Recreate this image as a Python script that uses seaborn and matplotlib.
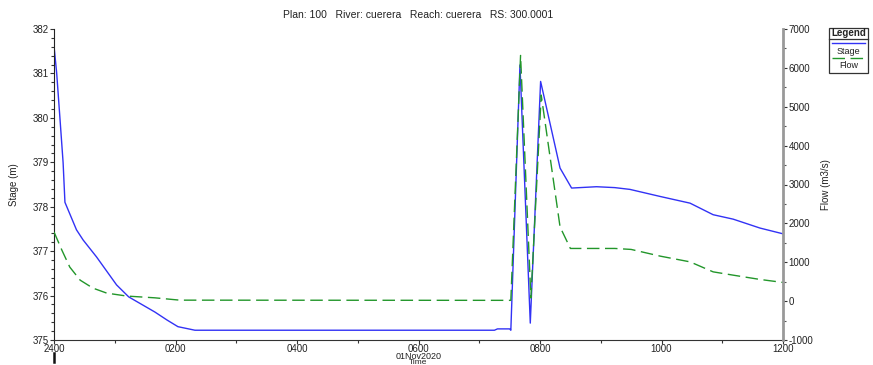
import matplotlib
matplotlib.use("Agg")
import matplotlib.pyplot as plt
from matplotlib.lines import Line2D
from matplotlib.patches import Rectangle
from matplotlib.ticker import MultipleLocator
import seaborn as sns
import pandas as pd

# Stage hydrograph (hours after 2400, stage in m)
stage_hours = [0.0, 0.044, 0.10, 0.15, 0.18, 0.37, 0.48, 0.70, 1.03, 1.23, 1.66, 1.86,
               2.04, 2.32, 7.25, 7.30, 7.50, 7.52, 7.67, 7.84, 8.01, 8.33, 8.52, 8.93,
               9.23, 9.48, 9.98, 10.47, 10.85, 11.18, 11.62, 12.0]
stage_m = [381.62, 381.01, 379.95, 378.99, 378.10, 377.48, 377.25, 376.87, 376.24, 375.97,
           375.63, 375.45, 375.30, 375.22, 375.22, 375.25, 375.25, 375.22, 381.19, 375.38,
           380.82, 378.87, 378.42, 378.45, 378.43, 378.39, 378.23, 378.08, 377.82, 377.72,
           377.52, 377.39]

# Flow hydrograph (hours after 2400, flow in m3/s)
flow_hours = [0.0, 0.13, 0.26, 0.43, 0.64, 0.87, 1.20, 1.66, 2.07, 7.50, 7.52, 7.68,
              7.85, 8.02, 8.33, 8.50, 9.23, 9.50, 9.98, 10.47, 10.85, 11.18, 11.62, 12.0]
flow_cms = [1780, 1310, 875, 540, 335, 205, 130, 85, 25, 20, 20, 6320,
            80, 5300, 1910, 1355, 1355, 1330, 1157, 1010, 753, 668, 558, 480]

time_ticks = [0, 2, 4, 6, 8, 10, 12]
time_labels = ["2400", "0200", "0400", "0600", "0800", "1000", "1200"]

stage_df = pd.DataFrame({"hours": stage_hours, "stage": stage_m})
flow_df = pd.DataFrame({"hours": flow_hours, "flow": flow_cms})

plt.rcParams["font.family"] = ["Liberation Sans", "DejaVu Sans"]
plt.rcParams["axes.unicode_minus"] = False

W, H = 873, 365
fig = plt.figure(figsize=(W / 100, H / 100), dpi=100)
ax = fig.add_axes([54 / W, 1 - 340 / H, (783 - 54) / W, (340 - 29) / H])
ax2 = ax.twinx()

stage_color = "#3232f5"
flow_color = "#22962a"

sns.lineplot(data=stage_df, x="hours", y="stage", ax=ax, color=stage_color,
             linewidth=1.0, estimator=None, sort=False)
sns.lineplot(data=flow_df, x="hours", y="flow", ax=ax2, color=flow_color,
             linewidth=1.0, estimator=None, sort=False)
for ln in ax2.get_lines():
    ln.set_dashes([9, 4])

ax.set_xlim(0, 12)
ax.set_ylim(375, 382)
ax2.set_ylim(-1000, 7000)

ax.set_xticks(time_ticks)
ax.set_xticklabels(time_labels)
ax.xaxis.set_minor_locator(MultipleLocator(1))
ax.yaxis.set_major_locator(MultipleLocator(1))
ax.yaxis.set_minor_locator(MultipleLocator(0.2))
ax2.yaxis.set_major_locator(MultipleLocator(1000))
ax2.yaxis.set_minor_locator(MultipleLocator(500))

tick_kw = dict(labelsize=7, colors="#333333", labelcolor="#222222")
ax.tick_params(axis="both", which="major", length=3, width=0.8, pad=1, **tick_kw)
ax.tick_params(axis="x", which="major", pad=0)
ax.tick_params(axis="both", which="minor", length=2, width=0.8, colors="#333333")
ax2.tick_params(axis="y", which="major", length=3, width=0.8, pad=1, **tick_kw)
ax2.tick_params(axis="y", which="minor", length=2, width=0.8, colors="#555555")

for a in (ax, ax2):
    a.spines["top"].set_visible(False)
ax.spines["right"].set_visible(False)
ax.spines["left"].set_color("#222222")
ax.spines["bottom"].set_color("#333333")
ax2.spines["left"].set_visible(False)
ax2.spines["bottom"].set_visible(False)
ax2.spines["right"].set_color("#999999")
ax2.spines["right"].set_linewidth(2.0)

ax.set_xlabel("")
ax.set_ylabel("Stage (m)", fontsize=7, color="#222222")
ax2.set_ylabel("Flow (m3/s)", fontsize=7, color="#222222", rotation=90)
ax2.yaxis.set_label_coords(1.052, 0.5)
ax.yaxis.set_label_coords(-0.048, 0.5)

# date and axis caption under the 0600 tick
ax.text(0.5, -16.5 / 311, "01Nov2020", transform=ax.transAxes, ha="center",
        va="center", fontsize=6.5, color="#222222")
ax.text(0.5, -22.5 / 311, "Time", transform=ax.transAxes, ha="center",
        va="center", fontsize=6, color="#222222")
# start-of-day marker below the origin
ax.add_line(Line2D([0, 0], [-0.042, -0.071], transform=ax.transAxes, color="#111111",
                   linewidth=1.8, clip_on=False))

fig.text(418 / W, 1 - 15 / H,
         "Plan: 100   River: cuerera   Reach: cuerera   RS: 300.0001",
         ha="center", va="center", fontsize=7.5, color="#222222")

# legend box
bx0, bx1, by0, by1 = 829, 868, 28, 73
fig.patches.append(Rectangle((bx0 / W, 1 - by1 / H), (bx1 - bx0) / W, (by1 - by0) / H,
                             transform=fig.transFigure, fill=False, edgecolor="#333333",
                             linewidth=0.9))
fig.text((bx0 + bx1) / 2 / W, 1 - 33 / H, "Legend", ha="center", va="center",
         fontsize=7, fontweight="bold", color="#222222")
fig.lines.append(Line2D([bx0 / W, bx1 / W], [1 - 38.5 / H, 1 - 38.5 / H],
                        transform=fig.transFigure, color="#333333", linewidth=0.9))
fig.lines.append(Line2D([832 / W, 865 / W], [1 - 43 / H, 1 - 43 / H],
                        transform=fig.transFigure, color=stage_color, linewidth=1.0))
fig.text((bx0 + bx1) / 2 / W, 1 - 51 / H, "Stage", ha="center", va="center",
         fontsize=6.5, color="#222222")
fig.lines.append(Line2D([832 / W, 865 / W], [1 - 58 / H, 1 - 58 / H],
                        transform=fig.transFigure, color=flow_color, linewidth=1.0,
                        dashes=[9, 4]))
fig.text((bx0 + bx1) / 2 / W, 1 - 65.5 / H, "Flow", ha="center", va="center",
         fontsize=6.5, color="#222222")

fig.savefig("out.png", dpi=100)
